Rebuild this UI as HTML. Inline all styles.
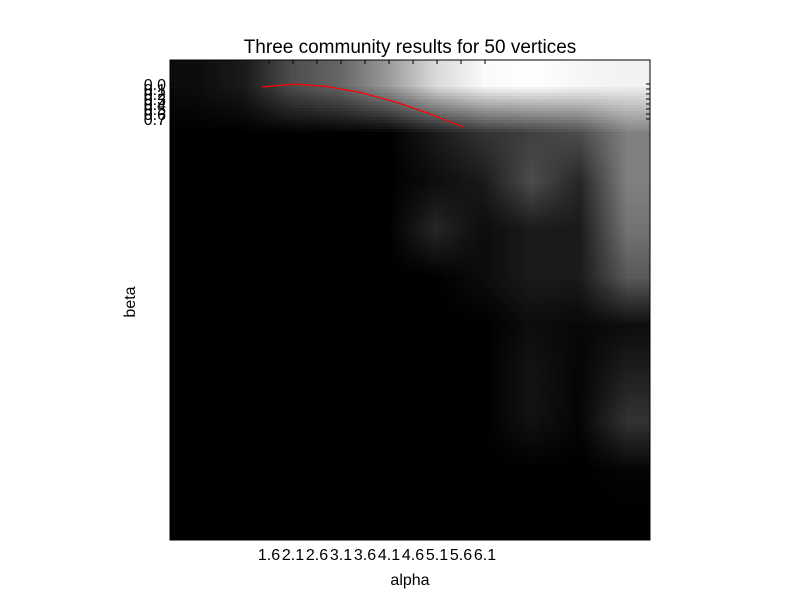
<!DOCTYPE html>
<html><head><meta charset="utf-8"><style>
body{margin:0;background:#fff;font-family:"Liberation Sans",sans-serif}
#wrap{position:relative;width:800px;height:600px;background:#fff}
canvas{position:absolute;left:170px;top:60px;width:480px;height:480px}
svg{position:absolute;left:0;top:0}
</style></head><body>
<div id="wrap">
<canvas id="heat" width="10" height="10"></canvas>
<svg id="svg" width="800" height="600"></svg>
</div>
<script>
const heatRows = [
 [0.05,0.1,0.3,0.4,0.6,0.85,0.98,1,0.97,0.95],
 [0,0,0,0,0,0.1,0.2,0.25,0.3,0.5],
 [0,0,0,0,0,0.05,0.1,0.3,0.15,0.5],
 [0,0,0,0,0,0.15,0.05,0.1,0.1,0.45],
 [0,0,0,0,0,0,0.05,0.1,0.1,0.35],
 [0,0,0,0,0,0,0,0.05,0.03,0.05],
 [0,0,0,0,0,0,0,0.08,0.02,0.12],
 [0,0,0,0,0,0,0,0.07,0.02,0.2],
 [0,0,0,0,0,0,0,0,0,0.02],
 [0,0,0,0,0,0,0,0,0,0]
];
const xTickLabels = ["1.6","2.1","2.6","3.1","3.6","4.1","4.6","5.1","5.6","6.1"];
const xTickValues = [1.6,2.1,2.6,3.1,3.6,4.1,4.6,5.1,5.6,6.1];
const yTickLabels = ["0.0","0.1","0.2","0.3","0.4","0.5","0.6","0.7"];
const yTickValues = [0,0.1,0.2,0.3,0.4,0.5,0.6,0.7];
const lineAlpha = [1.45,2.14,2.8,3.5,4.2,4.9,5.64];
const lineBeta = [0.06,0,0.05,0.17,0.35,0.58,0.86];

const xScale = a => 269 + (a-1.6)/0.5*24;
const yScale = b => 84 + b*50;

const cv = document.getElementById('heat'), ctx = cv.getContext('2d');
const img = ctx.createImageData(10,10);
heatRows.forEach((row,r)=>row.forEach((v,c)=>{
  const i=(r*10+c)*4, g=Math.round(v*255);
  img.data[i]=g;img.data[i+1]=g;img.data[i+2]=g;img.data[i+3]=255;
}));
ctx.putImageData(img,0,0);

const svg = document.getElementById('svg'), NS='http://www.w3.org/2000/svg';
function mk(tag, attrs){const e=document.createElementNS(NS,tag);for(const k in attrs)e.setAttribute(k,attrs[k]);svg.appendChild(e);return e;}
const frame = mk('rect',{x:170,y:60,width:480,height:480,fill:'none',stroke:'#000','stroke-width':1});


xTickValues.forEach((v,i)=>{
  const x=xScale(v);
  const t1=mk('line',{x1:x,x2:x,y1:60,y2:64,stroke:'#000'});
  
  
  const t2=mk('line',{x1:x,x2:x,y1:540,y2:536,stroke:'#000'});
  
  
  const tx=mk('text',{x:x,y:560,'text-anchor':'middle','font-size':16,fill:'#000'});
  tx.textContent=xTickLabels[i];
  
  
});
yTickValues.forEach((v,i)=>{
  const y=yScale(v);
  const t1=mk('line',{x1:170,x2:174,y1:y,y2:y,stroke:'#000'});
  
  
  const t2=mk('line',{x1:650,x2:646,y1:y,y2:y,stroke:'#000'});
  
  
  const tx=mk('text',{x:166,y:y+6,'text-anchor':'end','font-size':16,fill:'#000'});
  tx.textContent=yTickLabels[i];
  
  
});
const pts=lineAlpha.map((a,i)=>xScale(a)+','+yScale(lineBeta[i])).join(' ');
const pl=mk('polyline',{points:pts,fill:'none',stroke:'#f00','stroke-width':1.2});


const title=mk('text',{x:410,y:53,'text-anchor':'middle','font-size':19,fill:'#000'});
title.textContent='Three community results for 50 vertices';


const xl=mk('text',{x:410,y:585,'text-anchor':'middle','font-size':16,fill:'#000'});
xl.textContent='alpha';


const yl=mk('text',{x:135,y:302,'text-anchor':'middle','font-size':16,fill:'#000',transform:'rotate(-90 135 302)'});
yl.textContent='beta';


</script>
</body></html>
